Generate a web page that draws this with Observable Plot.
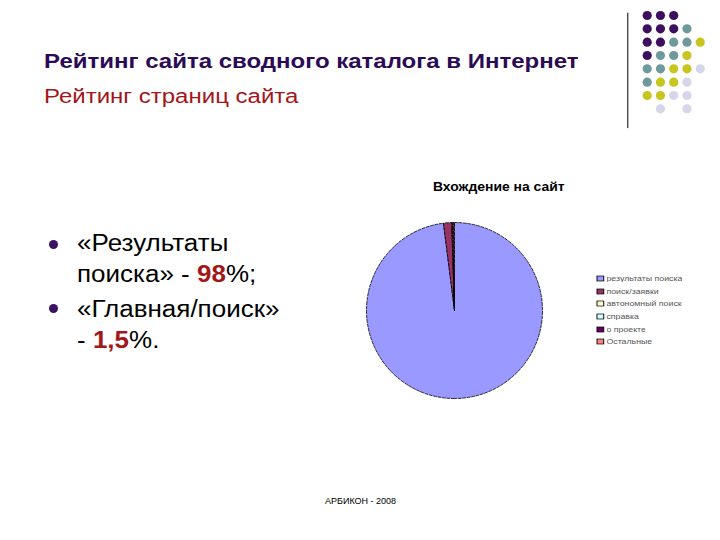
<!DOCTYPE html>
<html><head><meta charset="utf-8">
<script src="https://cdn.jsdelivr.net/npm/d3@7"></script>
<script src="https://cdn.jsdelivr.net/npm/@observablehq/plot@0.6"></script>
<style>
body{margin:0;background:#fff;font-family:"Liberation Sans",Arial,sans-serif;}
#page{position:relative;width:720px;height:540px;overflow:hidden;background:#fff;}
.abs{position:absolute;white-space:nowrap;transform-origin:0 0;}
#t1{left:44px;top:50px;font-size:20px;font-weight:bold;color:#2b0b55;transform:scaleX(1.2);}
#t2{left:44px;top:85px;font-size:20px;color:#a3161a;transform:scaleX(1.2);}
.bul{position:absolute;width:9px;height:9px;border-radius:50%;background:#3a1260;}
.btxt{position:absolute;left:77px;font-size:23px;line-height:31px;color:#000;white-space:nowrap;transform:scaleX(1.13);transform-origin:0 0;}
.btxt b{color:#a3161a;}
#ctitle{left:433px;top:180px;font-size:12px;font-weight:bold;color:#000;transform:scaleX(1.16);}
#foot{left:325px;top:496px;font-size:9px;color:#000;}
#pie{position:absolute;left:364px;top:220px;}
#deco{position:absolute;left:620px;top:5px;}
#legend{position:absolute;left:597px;top:272px;transform:scaleX(1.35);transform-origin:0 0;}
.lg-swatch{height:12.7px;padding-bottom:0 !important;margin:0 !important;}
.lg-swatch svg{margin-right:2px !important;}
.lg-swatch svg rect{stroke:#000;stroke-width:0.7px;}
</style></head>
<body><div id="page">
<div id="t1" class="abs">Рейтинг сайта сводного каталога в Интернет</div>
<div id="t2" class="abs">Рейтинг страниц сайта</div>
<div class="bul" style="left:49px;top:240px"></div>
<div class="btxt" style="top:228px">«Результаты<br>поиска» - <b>98</b>%;</div>
<div class="bul" style="left:49px;top:304px"></div>
<div class="btxt" style="top:294px">«Главная/поиск»<br>- <b>1,5</b>%.</div>
<div id="ctitle" class="abs">Вхождение на сайт</div>
<div id="pie"></div>
<div id="legend"></div>
<div id="deco"></div>
<div id="foot" class="abs">АРБИКОН - 2008</div>
</div>
<script>
// Pie data
const categories = ["результаты поиска","поиск/заявки","автономный поиск","справка","о проекте","Остальные"];
const values = [98, 1.5, 0.1, 0.1, 0.1, 0.2];
const colors = ["#9999FF","#993366","#FFFFCC","#CCFFFF","#660066","#FF8080"];

// decorative dot grid (rows top->bottom, cols left->right)
const decoRows = [0,0,0,1,1,1,1,2,2,2,2,2,3,3,3,3,4,4,4,4,4,5,5,5,5,6,6,6,6,7,7];
const decoCols = [0,1,2,0,1,2,3,0,1,2,3,4,0,1,2,3,0,1,2,3,4,0,1,2,3,0,1,2,3,1,3];
const decoKinds = ["P","P","P","P","P","P","T","P","P","T","T","Y","P","T","T","Y","T","T","Y","Y","L","T","Y","Y","L","Y","Y","L","L","L","L"];

const pieData = d3.pie().sort(null).value(d => d.value)(categories.map((c,i)=>({name:c, value:values[i], color:colors[i]})));
function arcPolygon(a0, a1){
  const n = Math.max(2, Math.ceil((a1-a0)/0.02));
  const pts = [[0,0]];
  for(let k=0;k<=n;k++){const a=a0+(a1-a0)*k/n; pts.push([Math.sin(a), Math.cos(a)]);}
  pts.push([0,0]);
  return pts;
}
const features = pieData.map(p => ({type:"Feature", properties:{name:p.data.name, color:p.data.color}, geometry:{type:"Polygon", coordinates:[arcPolygon(p.startAngle, p.endAngle)]}}));
const circle = {type:"Polygon", coordinates:[arcPolygon(0, 2*Math.PI).slice(1)]};

const pie = Plot.plot({
  width: 180, height: 180, margin: 2,
  projection: {type: "reflect-y", domain: circle},
  marks: [
    Plot.geo(features, {fill: d => d.properties.color, stroke: "#000", strokeWidth: 0.8, strokeDasharray: "3,1.5"})
  ]
});
document.getElementById("pie").appendChild(pie);

const leg = Plot.legend({color:{type:"ordinal", domain:categories, range:colors}, legend:"swatches", columns:1, swatchSize:5, className:"lg", style:{fontSize:"6.5px", fontFamily:"Liberation Sans, Arial, sans-serif", color:"#555"}});
document.getElementById("legend").appendChild(leg);

const kindColor = {P:"#3d0f5e", T:"#6f9a9b", Y:"#c7c51e", L:"#d6d6e8"};
const deco = Plot.plot({
  width: 100, height: 130, margin: 0,
  x: {domain:[-2.015, 5.53], axis:null},
  y: {domain:[-0.75, 9.0], axis:null, reverse:true},
  marks: [
    Plot.ruleX([-1.464], {y1:-0.17, y2: 8.48, stroke:"#000", strokeWidth:1}),
    Plot.dot(decoKinds.map((k,i)=>({x:decoCols[i], y:decoRows[i], k})), {x:"x", y:"y", r:4.6, fill: d => kindColor[d.k], stroke:"none"})
  ]
});
document.getElementById("deco").appendChild(deco);
</script>
</body></html>
